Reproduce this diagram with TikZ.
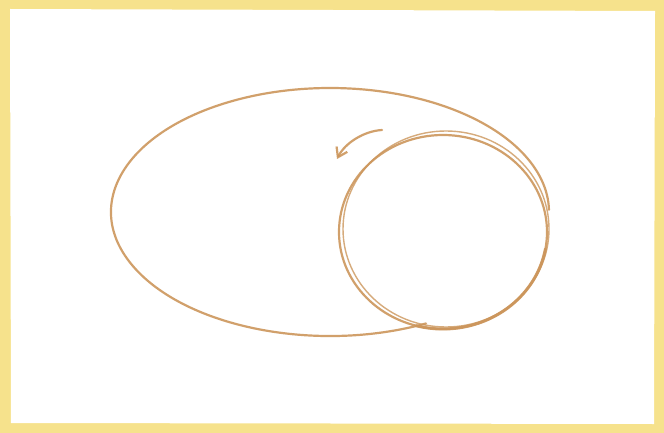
\documentclass[tikz,border=0pt]{standalone}
\usetikzlibrary{arrows.meta}
\definecolor{pencil}{RGB}{204,150,92}
\definecolor{frame}{RGB}{246,226,140}
\tikzset{
  sketch/.style={draw=pencil, line width=2.2pt, line cap=round, opacity=0.9},
  sketchthin/.style={draw=pencil, line width=1.4pt, line cap=round, opacity=0.8}
}
\begin{document}
\begin{tikzpicture}[x=1pt,y=-1pt]
\useasboundingbox (0,0) rectangle (664,433);
\fill[frame] (0,0) rectangle (664,433);
\fill[white] (10,9) -- (655,11) -- (654,424) -- (11,423) -- cycle;
% large egg outline: ellipse arc ending on the circle
\coordinate (eggc) at (330,212);
\draw[sketch] (eggc) ++(64:219 and 124) arc[start angle=64, end angle=359, x radius=219, y radius=124];
% small circle, drawn twice
\coordinate (cc) at (443,232);
\draw[sketch] (cc) ellipse [x radius=104, y radius=97];
\draw[sketchthin] (446,229) ellipse [x radius=103, y radius=98];
% heavier shading along the lower right of the circle
\draw[sketch, line width=3pt] (cc) ++(10:104 and 97) arc[start angle=10, end angle=105, x radius=104, y radius=97];
% arrow
\coordinate (a0) at (382,130);
\coordinate (a1) at (337,159);
\draw[sketch, -{Straight Barb[length=9pt,width=12pt]}] (a0) .. controls (364,131) and (345,143) .. (a1);
\end{tikzpicture}
\end{document}
